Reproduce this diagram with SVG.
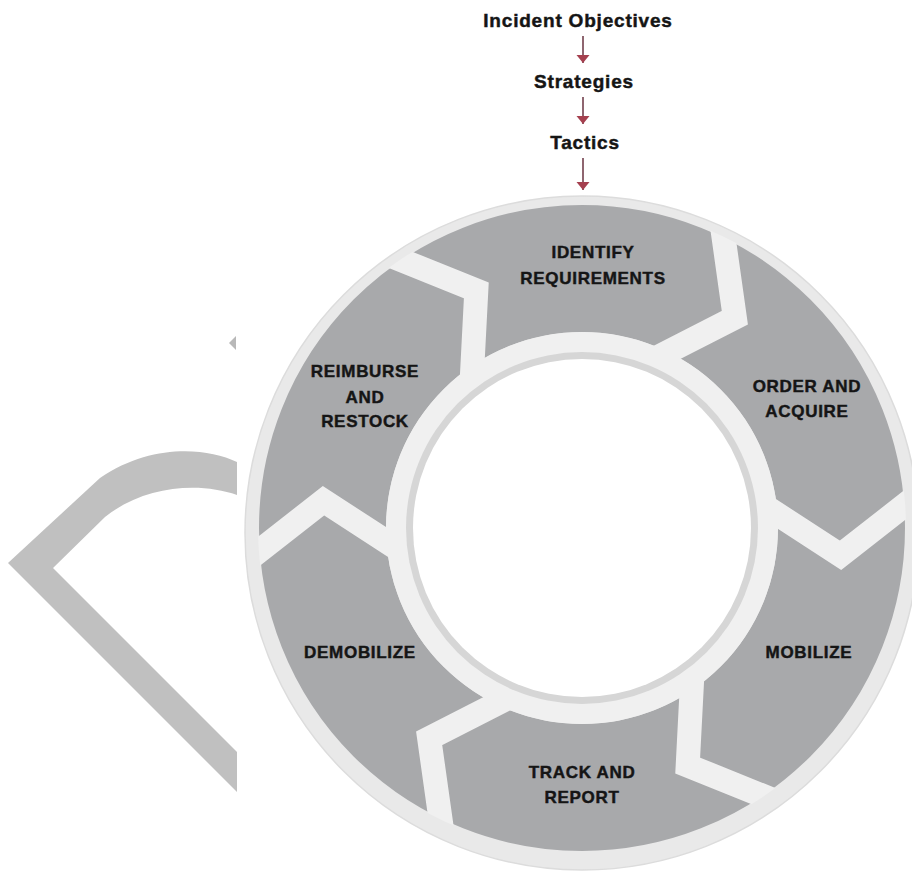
<svg xmlns="http://www.w3.org/2000/svg" xmlns:xlink="http://www.w3.org/1999/xlink" width="912" height="875" viewBox="0 0 912 875">
  <style>
    .lbl { font-family: "Liberation Sans", Arial, sans-serif; font-weight: bold; font-size: 17px; letter-spacing: 0.7px; fill: #151515; stroke: #151515; stroke-width: 0.45px; text-anchor: middle; }
    .top { font-family: "Liberation Sans", Arial, sans-serif; font-weight: bold; font-size: 19px; letter-spacing: 0.8px; fill: #151515; stroke: #151515; stroke-width: 0.45px; text-anchor: middle; }
    .seg { fill: none; stroke: #a8a9ab; stroke-width: 127; }
    .gap { fill: none; stroke: #f0f0f0; stroke-width: 24; stroke-linejoin: miter; stroke-miterlimit: 10; }
    .arrow { stroke: #8f6670; stroke-width: 2; fill: none; }
  </style>
  <defs>
    <marker id="ah" markerWidth="10" markerHeight="14" refX="8" refY="6.5" orient="auto" markerUnits="userSpaceOnUse">
      <path d="M0,0 L8,6.5 L0,13 Z" fill="#a5404f"/>
    </marker>
    <path id="chev" d="M343,-13.5 L256,45.2 L178,-13.5"/>
    <clipPath id="ringclip">
      <circle cx="582" cy="528" r="324"/>
    </clipPath>
  </defs>
  <rect width="912" height="875" fill="#ffffff"/>

  <!-- background watermark shapes -->
  <path d="M237,462 C205,447 150,444 100,478 L8,563 L237,792 L237,752 L53,568 L105,517 C145,485 200,482 237,495 Z" fill="#c0c0c0"/>
  <path d="M229,343 L236,336 L236,350 Z" fill="#b8b8b8"/>

  <!-- cycle ring -->
  <g id="ring">
    <circle cx="582" cy="533" r="337" fill="#e9e9e9" stroke="#dcdcdc" stroke-width="1.5"/>
    <circle class="seg" cx="582" cy="528" r="259.5"/>
    <g clip-path="url(#ringclip)">
      <use xlink:href="#chev" class="gap" transform="translate(582 528) rotate(-124)"/>
      <use xlink:href="#chev" class="gap" transform="translate(582 528) rotate(-64)"/>
      <use xlink:href="#chev" class="gap" transform="translate(582 528) rotate(-4)"/>
      <use xlink:href="#chev" class="gap" transform="translate(582 528) rotate(56)"/>
      <use xlink:href="#chev" class="gap" transform="translate(582 528) rotate(116)"/>
      <use xlink:href="#chev" class="gap" transform="translate(582 528) rotate(176)"/>
    </g>
    <circle cx="582" cy="528" r="196" fill="#f0f0f0"/>
    <circle cx="582" cy="528" r="176" fill="#d6d6d6"/>
    <circle cx="582" cy="528" r="169" fill="#ffffff"/>
  </g>

  <!-- top chain -->
  <g id="incident-objectives"><text class="top" x="578" y="27">Incident Objectives</text></g>
  <g id="strategies"><text class="top" x="584" y="88">Strategies</text></g>
  <g id="tactics"><text class="top" x="585" y="149">Tactics</text></g>

  <g id="connectors">
    <line class="arrow" x1="583" y1="36" x2="583" y2="63" marker-end="url(#ah)"/>
    <line class="arrow" x1="583" y1="97" x2="583" y2="124" marker-end="url(#ah)"/>
    <line class="arrow" x1="583" y1="158" x2="583" y2="190" marker-end="url(#ah)"/>
  </g>

  <!-- segment labels -->
  <g id="identify-requirements">
    <text class="lbl" x="593" y="258">IDENTIFY</text>
    <text class="lbl" x="593" y="284">REQUIREMENTS</text>
  </g>
  <g id="order-and-acquire">
    <text class="lbl" x="807" y="392">ORDER AND</text>
    <text class="lbl" x="807" y="417">ACQUIRE</text>
  </g>
  <g id="mobilize">
    <text class="lbl" x="809" y="658">MOBILIZE</text>
  </g>
  <g id="track-and-report">
    <text class="lbl" x="582" y="778">TRACK AND</text>
    <text class="lbl" x="582" y="803">REPORT</text>
  </g>
  <g id="demobilize">
    <text class="lbl" x="360" y="658">DEMOBILIZE</text>
  </g>
  <g id="reimburse-and-restock">
    <text class="lbl" x="365" y="377">REIMBURSE</text>
    <text class="lbl" x="365" y="403">AND</text>
    <text class="lbl" x="365" y="427">RESTOCK</text>
  </g>
</svg>
